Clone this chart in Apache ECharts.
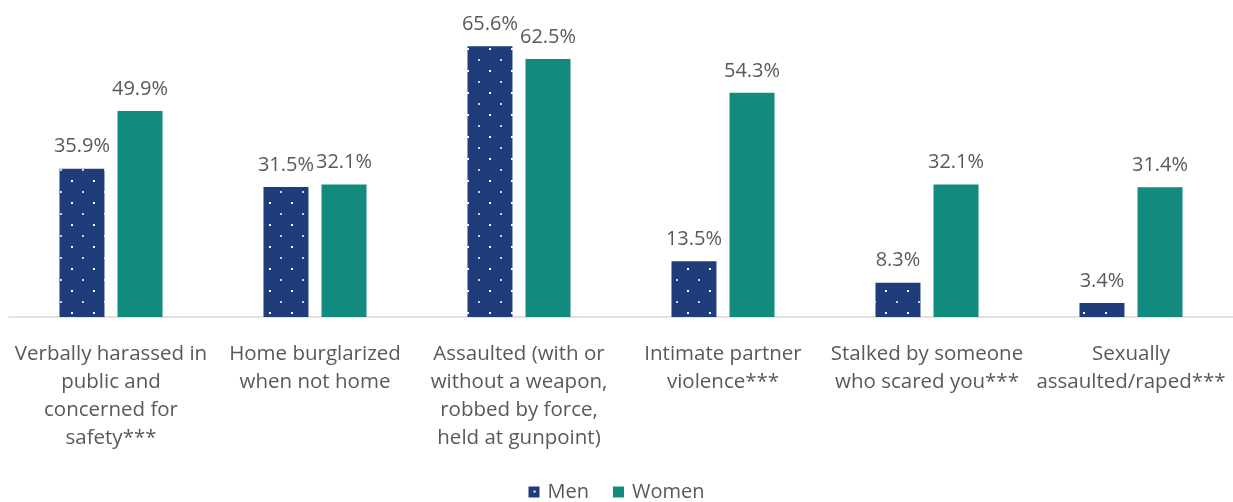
<!DOCTYPE html>
<html><head><meta charset="utf-8">
<script src="https://cdn.jsdelivr.net/npm/echarts@6/dist/echarts.min.js"></script>
<style>html,body{margin:0;padding:0;background:#fff}#c{width:1233px;height:502px}</style>
</head><body><div id="c"></div>
<script>
var categories = [
  'Verbally harassed in\npublic and\nconcerned for\nsafety***',
  'Home burglarized\nwhen not home',
  'Assaulted (with or\nwithout a weapon,\nrobbed by force,\nheld at gunpoint)',
  'Intimate partner\nviolence***',
  'Stalked by someone\nwho scared you***',
  'Sexually\nassaulted/raped***'
];
var menValues = [35.9, 31.5, 65.6, 13.5, 8.3, 3.4];
var womenValues = [49.9, 32.1, 62.5, 54.3, 32.1, 31.4];

var FONT = '"Open Sans", sans-serif';
var TEXT = '#595959';
var MEN = '#1F3D7B';
var WOMEN = '#138A7E';

function dotPattern() {
  var c = document.createElement('canvas');
  c.width = 22; c.height = 22;
  var g = c.getContext('2d');
  g.fillStyle = MEN; g.fillRect(0, 0, 22, 22);
  g.fillStyle = '#ffffff'; g.fillRect(5, 4, 2, 2);
  g.fillStyle = '#c9d3e6'; g.fillRect(16, 15, 2, 2);
  return c;
}

var chart = echarts.init(document.getElementById('c'));
chart.setOption({
  animation: false,
  textStyle: { fontFamily: FONT },
  grid: { left: 9, right: 0, top: 28, height: 289 },
  legend: {
    top: 477, left: 'center', itemWidth: 11, itemHeight: 11, itemGap: 24,
    icon: 'rect',
    textStyle: { fontSize: 20, color: TEXT, fontFamily: FONT, padding: [0, 0, 0, 3] },
    data: ['Men', 'Women']
  },
  xAxis: {
    type: 'category', data: categories,
    axisLine: { lineStyle: { color: '#D9D9D9', width: 1.5 } },
    axisTick: { show: false },
    axisLabel: { interval: 0, color: TEXT, fontSize: 20.5, lineHeight: 28, margin: 23, fontFamily: FONT }
  },
  yAxis: { type: 'value', min: 0, max: 70, show: false, splitLine: { show: false } },
  series: [
    {
      name: 'Men', type: 'bar', data: menValues, barWidth: 45, barGap: '29%',
      itemStyle: { color: { image: dotPattern(), repeat: 'repeat' } },
      label: { show: true, position: 'top', distance: 12, formatter: function(p){return p.value.toFixed(1)+'%';}, fontSize: 20, color: TEXT, fontFamily: FONT }
    },
    {
      name: 'Women', type: 'bar', data: womenValues, barWidth: 45,
      itemStyle: { color: WOMEN },
      label: { show: true, position: 'top', distance: 12, formatter: function(p){return p.value.toFixed(1)+'%';}, fontSize: 20, color: TEXT, fontFamily: FONT }
    }
  ]
});
</script></body></html>
